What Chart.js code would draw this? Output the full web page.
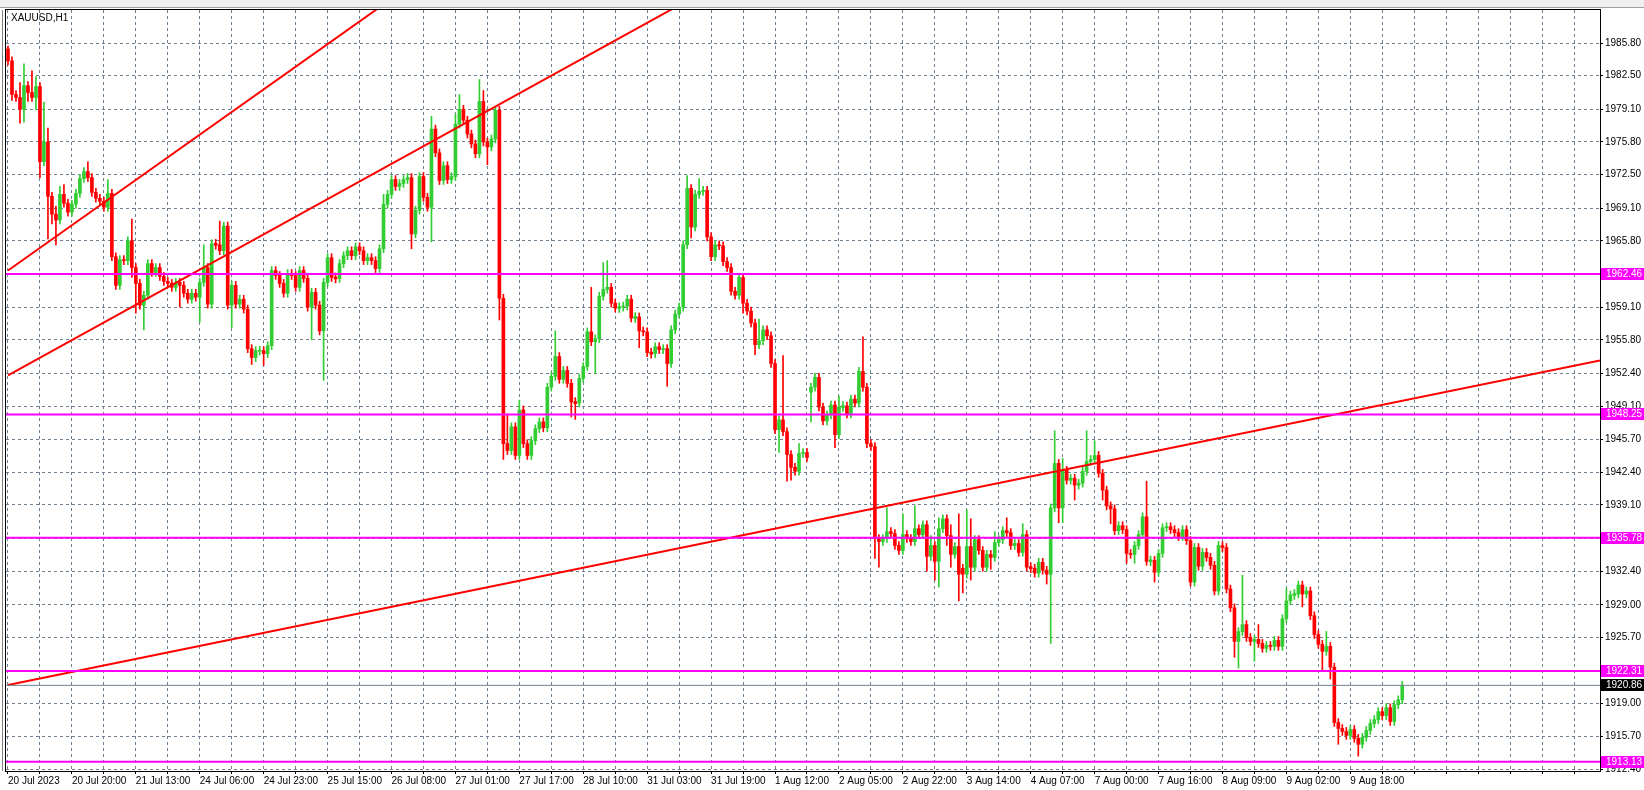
<!DOCTYPE html>
<html>
<head>
<meta charset="utf-8">
<script src="https://cdn.jsdelivr.net/npm/chart.js@4.4.0/dist/chart.umd.min.js"></script>
<style>
  html, body { margin: 0; padding: 0; background: #fff; }
  #wrap { width: 1644px; height: 790px; position: relative; }
</style>
</head>
<body>
<div id="wrap"><canvas id="c" width="1644" height="790"></canvas></div>
<script>
// XAUUSD H1, 20 Jul - 10 Aug 2023
var symbolTitle = 'XAUUSD,H1';
var firstOpen = 1985.2;
var closes = [
  1984.0,1980.6,1980.3,1979.1,1981.5,1980.8,1980.3,1981.4,1973.8,1975.8,
  1970.3,1968.5,1967.9,1970.5,1969.6,1968.7,1969.5,1970.6,1972.1,1972.8,
  1972.2,1970.7,1970.1,1969.8,1969.2,1970.6,1964.2,1961.3,1963.9,1963.8,
  1965.8,1963.1,1961.5,1959.3,1960.3,1963.5,1962.6,1963.1,1962.2,1961.7,
  1961.5,1961.1,1961.6,1961.3,1960.5,1959.9,1960.5,1960.1,1961.6,1963.1,
  1959.4,1965.5,1965.4,1964.8,1967.3,1959.3,1961.3,1959.4,1959.9,1958.9,
  1954.9,1954.0,1954.7,1954.7,1954.4,1955.2,1962.8,1962.3,1961.5,1960.5,
  1962.5,1962.3,1961.1,1962.8,1962.0,1959.1,1960.6,1959.3,1956.7,1961.6,
  1964.1,1962.1,1962.0,1963.5,1964.3,1964.8,1964.3,1965.2,1964.8,1963.8,
  1964.1,1963.8,1963.0,1965.0,1969.5,1970.5,1972.0,1971.3,1971.6,1972.0,
  1972.2,1966.5,1968.9,1972.3,1970.2,1969.2,1977.1,1974.7,1971.9,1973.4,
  1972.0,1972.3,1977.6,1979.1,1978.0,1976.6,1975.6,1974.6,1979.9,1975.8,
  1975.3,1976.1,1979.0,1960.0,1945.3,1944.6,1947.0,1944.1,1948.7,1945.3,
  1944.1,1945.6,1946.8,1947.5,1946.9,1951.0,1952.1,1954.1,1951.8,1952.7,
  1951.4,1949.5,1949.4,1951.9,1953.1,1956.6,1955.6,1955.9,1960.2,1960.9,
  1961.1,1959.5,1959.0,1959.1,1959.2,1959.9,1958.0,1958.1,1956.7,1956.6,
  1954.5,1954.4,1955.1,1954.8,1954.9,1953.4,1956.8,1958.4,1959.1,1965.4,
  1971.1,1967.2,1970.5,1970.8,1970.9,1966.2,1964.2,1965.4,1965.3,1963.7,
  1963.1,1960.7,1960.3,1962.1,1959.5,1958.7,1957.5,1955.3,1955.7,1956.8,
  1956.2,1953.4,1946.7,1947.7,1946.5,1944.2,1942.9,1942.5,1944.3,1944.4,
  1943.9,1951.0,1952.0,1949.0,1947.6,1948.2,1949.2,1946.2,1949.0,1949.1,
  1948.3,1949.8,1949.4,1952.6,1951.0,1945.3,1945.0,1935.7,1935.4,1935.7,
  1936.4,1936.2,1935.0,1934.5,1936.1,1935.7,1935.4,1936.7,1936.1,1937.1,
  1933.9,1935.0,1933.4,1936.7,1937.7,1936.0,1934.1,1934.9,1932.1,1932.1,
  1934.9,1932.8,1935.6,1934.5,1932.8,1934.1,1933.8,1935.3,1935.6,1936.5,
  1936.3,1935.0,1935.2,1934.3,1936.1,1932.8,1932.7,1932.2,1933.3,1932.5,
  1932.1,1938.8,1943.3,1938.8,1942.6,1941.6,1941.8,1941.1,1941.3,1942.5,
  1943.5,1943.7,1944.1,1942.3,1940.6,1939.0,1938.7,1936.5,1937.0,1936.6,
  1934.2,1934.1,1935.0,1936.1,1937.9,1933.4,1933.5,1932.3,1934.2,1936.8,
  1936.9,1936.6,1936.3,1935.9,1936.6,1935.5,1931.3,1934.8,1932.9,1934.3,
  1933.8,1933.0,1930.4,1935.0,1934.8,1930.6,1928.7,1925.3,1926.3,1927.0,
  1925.7,1925.3,1925.5,1925.1,1924.6,1924.9,1924.8,1925.4,1924.8,1927.6,
  1929.4,1930.0,1930.1,1931.0,1930.1,1930.4,1927.9,1926.0,1925.0,1924.3,
  1924.8,1922.7,1917.1,1916.5,1916.2,1915.8,1916.4,1915.5,1914.9,1915.6,
  1916.3,1917.0,1917.4,1918.2,1917.8,1918.6,1917.2,1918.9,1919.4,1920.86
];
// opens that gap away from the previous close
var gapOpens = { 123: 1979.0, 201: 1950.5, 239: 1932.7 };
// wick lengths beyond the body (price units); others are short
var upperWicks = {0:0.3,3:1.5,4:2.2,6:2.2,7:1,9:4,10:1.4,12:0.8,13:0.8,14:1,20:1,25:1.4,31:2.2,49:2.3,53:2.4,94:1,106:1.3,
  112:1,113:1.5,118:2.2,119:1.1,125:3,128:1,137:2.6,146:4.5,149:2.7,150:2.7,170:1.3,173:1.3,188:2.2,194:6.5,198:1,208:1.1,
  214:3.5,220:2.4,224:2.1,227:2.3,231:1,233:1.1,236:1.1,238:3.3,240:3.7,241:2.8,247:1.1,250:1.3,254:1.1,262:3.3,264:1.2,
  270:3.1,272:1.5,285:3.6,309:5,313:1.5,320:1.3,330:1.5};
var lowerWicks = {1:0.6,3:1.4,4:1.3,5:0.9,7:1.2,8:1.6,10:4.3,11:1,12:2.5,31:1,32:3,34:2.5,43:2.2,48:2.5,56:2.3,61:0.7,64:1.2,
  76:3.3,79:5,101:1.5,106:3.5,120:1.8,123:2.2,124:1.6,141:1.5,142:1.6,147:3.2,158:1.7,165:2.3,171:1.1,184:1,187:1,193:2.3,
  195:2.7,196:1.3,201:3,207:1.3,217:2,218:2.6,230:1.5,232:1.9,233:2.6,235:1,236:1.3,238:2.7,239:1.9,241:1.3,246:1.2,260:1,
  261:7,263:1.5,264:1.5,267:1.5,274:1,276:1.5,280:1,282:0.9,287:1,302:0.4,307:1.6,308:2.7,312:2,324:1.3,329:2,331:1.2,
  333:1.6,338:1.2};
var shortWick = 0.4;

var levels = [1962.46, 1948.25, 1935.78, 1922.31, 1913.13];
var bidPrice = 1920.86;
// [bar, price, bar, price]
var trendLines = [
  [0, 1962.8, 130, 2000.0],
  [0, 1952.2, 180, 1992.3],
  [0, 1920.9, 398.5, 1953.7]
];
var yTickLabels = ['1985.80','1982.50','1979.10','1975.80','1972.50','1969.10','1965.80','1962.50','1959.10','1955.80',
  '1952.40','1949.10','1945.70','1942.40','1939.10','1935.70','1932.40','1929.00','1925.70','1922.30','1919.00','1915.70','1912.40'];
var xTickLabels = ['20 Jul 2023','20 Jul 20:00','21 Jul 13:00','24 Jul 06:00','24 Jul 23:00','25 Jul 15:00','26 Jul 08:00',
  '27 Jul 01:00','27 Jul 17:00','28 Jul 10:00','31 Jul 03:00','31 Jul 19:00','1 Aug 12:00','2 Aug 05:00','2 Aug 22:00',
  '3 Aug 14:00','4 Aug 07:00','7 Aug 00:00','7 Aug 16:00','8 Aug 09:00','9 Aug 02:00','9 Aug 18:00'];

var UP = '#32cd32', DOWN = '#ff0000', PINK = '#ff00ff', GRID = '#6f7f8f';
var FONT = '"Liberation Sans", Arial, sans-serif';

var bodies = [], wicks = [], colors = [];
closes.forEach(function (c, i) {
  var o = gapOpens[i] !== undefined ? gapOpens[i] : (i === 0 ? firstOpen : closes[i - 1]);
  var top = Math.max(o, c), bot = Math.min(o, c);
  var uw = upperWicks[i] !== undefined ? upperWicks[i] : shortWick;
  var lw = lowerWicks[i] !== undefined ? lowerWicks[i] : shortWick;
  if (top - bot < 0.1) { top += 0.05; bot -= 0.05; }
  bodies.push({ x: i, y: [bot, top] });
  wicks.push({ x: i, y: [bot - lw, top + uw] });
  colors.push(c >= o ? UP : DOWN);
});

var lineSets = [];
levels.forEach(function (p) {
  lineSets.push({ type: 'line', data: [{ x: -1, y: p }, { x: 400, y: p }], borderColor: PINK, borderWidth: 2, pointRadius: 0, order: 0 });
});
lineSets.push({ type: 'line', data: [{ x: -1, y: bidPrice }, { x: 400, y: bidPrice }], borderColor: '#708090', borderWidth: 1, pointRadius: 0, order: 0 });
trendLines.forEach(function (t) {
  lineSets.push({ type: 'line', data: [{ x: t[0], y: t[1] }, { x: t[2], y: t[3] }], borderColor: DOWN, borderWidth: 2, pointRadius: 0, order: 0 });
});

var decor = {
  id: 'decor',
  beforeDraw: function (chart) {
    var ctx = chart.ctx;
    ctx.save();
    ctx.fillStyle = '#fff';
    ctx.fillRect(0, 0, chart.width, chart.height);
    ctx.fillStyle = '#f0f0f0';
    ctx.fillRect(0, 0, chart.width, 8);
    ctx.strokeStyle = '#a0a0a0';
    ctx.beginPath(); ctx.moveTo(0, 7.5); ctx.lineTo(chart.width, 7.5); ctx.stroke();
    ctx.restore();
  },
  afterDraw: function (chart) {
    var ctx = chart.ctx, a = chart.chartArea, y = chart.scales.y;
    ctx.save();
    ctx.strokeStyle = '#000';
    ctx.lineWidth = 1;
    ctx.strokeRect(a.left - 0.5, a.top - 0.5, a.right - a.left + 1, a.bottom - a.top + 1);
    ctx.strokeStyle = '#808080';
    ctx.beginPath(); ctx.moveTo(a.left - 3.5, a.top); ctx.lineTo(a.left - 3.5, a.bottom); ctx.stroke();
    ctx.font = '10px ' + FONT;
    ctx.fillStyle = '#000';
    ctx.textBaseline = 'top';
    ctx.fillText(symbolTitle, a.left + 5, a.top + 3);
    ctx.textBaseline = 'middle';
    function tag(p, bg) {
      var py = Math.round(y.getPixelForValue(p));
      ctx.fillStyle = bg;
      ctx.fillRect(a.right + 1, py - 6, 44, 12);
      ctx.fillStyle = '#fff';
      ctx.fillText(p.toFixed(2), a.right + 6, py + 0.5);
    }
    levels.forEach(function (p) { tag(p, PINK); });
    tag(bidPrice, '#000');
    ctx.restore();
  }
};

new Chart(document.getElementById('c'), {
  data: {
    datasets: [
      { type: 'bar', data: bodies, backgroundColor: colors, barThickness: 3, grouped: false, order: 1 },
      { type: 'bar', data: wicks, backgroundColor: colors, barThickness: 1, grouped: false, order: 2 }
    ].concat(lineSets)
  },
  options: {
    responsive: false,
    animation: false,
    devicePixelRatio: 1,
    layout: { padding: { left: 6, top: 10, right: 0, bottom: 0 } },
    plugins: { legend: { display: false }, tooltip: { enabled: false } },
    scales: {
      x: {
        type: 'linear', min: -0.5, max: 398.5, offset: false,
        afterBuildTicks: function (s) {
          var t = [];
          for (var k = 0; k * 8 <= 398; k++) t.push({ value: k * 8 });
          s.ticks = t;
        },
        afterFit: function (s) { s.height = 19; s.paddingLeft = 0; s.paddingRight = 0; },
        grid: { offset: false, color: GRID, lineWidth: 1, tickLength: 3, drawTicks: true, tickColor: '#000' },
        border: { display: false, dash: [3, 3] },
        ticks: {
          autoSkip: false, maxRotation: 0, align: 'start', padding: 1,
          color: '#000', font: { family: FONT, size: 10 },
          callback: function (v) { return v % 16 === 0 ? (xTickLabels[v / 16] || '') : ''; }
        }
      },
      y: {
        position: 'right', min: 1912.2, max: 1989.14,
        afterBuildTicks: function (s) {
          s.ticks = yTickLabels.map(function (l) { return { value: parseFloat(l), label: l }; });
        },
        afterFit: function (s) { s.width = 44; },
        grid: { color: GRID, lineWidth: 1, tickLength: 3, tickColor: '#000' },
        border: { display: false, dash: [3, 3] },
        ticks: {
          autoSkip: false, padding: 2, color: '#000', font: { family: FONT, size: 10 },
          callback: function (v, i) { return yTickLabels[i]; }
        }
      }
    }
  },
  plugins: [decor]
});
</script>
</body>
</html>
